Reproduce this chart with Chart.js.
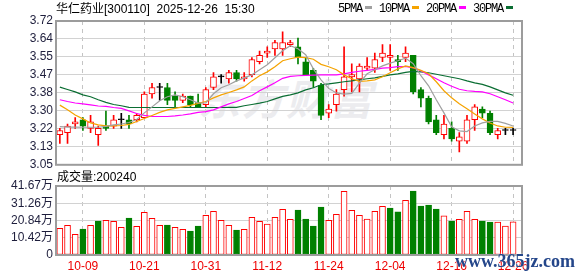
<!DOCTYPE html>
<html>
<head>
<meta charset="utf-8">
<script src="https://cdn.jsdelivr.net/npm/chart.js@4.4.1/dist/chart.umd.min.js"></script>
<style>
  html, body { margin: 0; padding: 0; background: #fff; }
  #wrap { position: relative; width: 578px; height: 276px; overflow: hidden;
          font-family: Arial, "Liberation Sans", "Noto Sans CJK SC", sans-serif; }
  canvas { position: absolute; left: 0; }
  #priceCv { top: 0; }
  #volCv { top: 172px; }
  .txt { position: absolute; white-space: nowrap; font-size: 12px; color: #000; line-height: 14px; }
  #title { left: 56px; top: 2px; }
  #legend { left: 338px; top: 2px; font-family: "Liberation Mono", monospace; letter-spacing: -1.2px; }
  #legend i { display: inline-block; width: 7px; height: 3px; margin: 0 7px 3px 3px; vertical-align: middle; }
  #volLabel { left: 57px; top: 170px; }
  #wm { position: absolute; left: 198px; top: 66px; font-size: 42px; font-weight: bold; color: #ececef;
        font-family: "Noto Sans CJK SC", sans-serif; font-style: italic; letter-spacing: 2px; }
  #site { position: absolute; left: 455px; top: 251px; font-size: 18px; font-weight: bold; color: #24468a;
          font-family: "Liberation Serif", serif; text-shadow: 0 0 2px #fff; }
</style>
</head>
<body>
<div id="wrap">
  <div id="wm">东方财富</div>
  <canvas id="priceCv" width="578" height="175"></canvas>
  <canvas id="volCv" width="578" height="104"></canvas>
  <div id="title" class="txt">华仁药业[300110]&nbsp;&nbsp;2025-12-26&nbsp;&nbsp;15:30</div>
  <div id="legend" class="txt">5PMA<i style="background:#a0a0a0"></i>10PMA<i style="background:#f5a300"></i>20PMA<i style="background:#ff00ff"></i>30PMA<i style="background:#0b6e33"></i></div>
  <div id="volLabel" class="txt">成交量:200240</div>
  <div id="site">www.365jz.com</div>
</div>
<script>
// trading days shown (oldest first)
const dates = ['09-26','09-29','09-30','10-09','10-10','10-13','10-14','10-15','10-16','10-17',
  '10-20','10-21','10-22','10-23','10-24','10-27','10-28','10-29','10-30','10-31',
  '11-03','11-04','11-05','11-06','11-07','11-10','11-11','11-12','11-13','11-14',
  '11-17','11-18','11-19','11-20','11-21','11-24','11-25','11-26','11-27','11-28',
  '12-01','12-02','12-03','12-04','12-05','12-08','12-09','12-10','12-11','12-12',
  '12-15','12-16','12-17','12-18','12-19','12-22','12-23','12-24','12-25','12-26'];
const tickDates = ['10-09','10-21','10-31','11-12','11-24','12-04','12-16','12-26'];

const opens = [3.19,3.20,3.24,3.26,3.22,3.19,3.23,3.23,3.26,3.26,
  3.26,3.27,3.38,3.41,3.41,3.37,3.35,3.37,3.34,3.33,
  3.41,3.46,3.45,3.48,3.45,3.47,3.53,3.57,3.59,3.59,
  3.61,3.60,3.53,3.49,3.42,3.29,3.33,3.40,3.46,3.45,
  3.50,3.50,3.55,3.55,3.54,3.55,3.56,3.40,3.36,3.26,
  3.19,3.22,3.16,3.16,3.26,3.31,3.29,3.19,3.21,3.21];
const highs = [3.22,3.24,3.27,3.27,3.28,3.23,3.30,3.28,3.29,3.28,
  3.29,3.39,3.43,3.43,3.43,3.39,3.38,3.37,3.38,3.41,
  3.48,3.47,3.49,3.49,3.48,3.55,3.58,3.60,3.63,3.67,
  3.63,3.64,3.55,3.50,3.43,3.33,3.40,3.60,3.52,3.52,
  3.55,3.57,3.61,3.61,3.56,3.60,3.56,3.41,3.37,3.28,
  3.28,3.25,3.20,3.28,3.33,3.32,3.30,3.22,3.22,3.22];
const lows = [3.15,3.15,3.22,3.21,3.20,3.14,3.21,3.22,3.22,3.22,
  3.25,3.27,3.36,3.35,3.33,3.32,3.34,3.32,3.32,3.32,
  3.40,3.43,3.43,3.44,3.44,3.46,3.52,3.55,3.56,3.56,
  3.60,3.52,3.47,3.41,3.26,3.27,3.30,3.37,3.39,3.39,
  3.49,3.48,3.53,3.49,3.49,3.53,3.38,3.32,3.24,3.19,
  3.17,3.16,3.11,3.15,3.21,3.27,3.19,3.17,3.19,3.19];
const closes = [3.21,3.23,3.25,3.23,3.25,3.22,3.22,3.26,3.26,3.24,
  3.28,3.38,3.41,3.41,3.35,3.35,3.37,3.33,3.32,3.40,
  3.46,3.46,3.48,3.45,3.46,3.54,3.56,3.58,3.62,3.62,
  3.62,3.55,3.47,3.44,3.28,3.31,3.38,3.46,3.47,3.51,
  3.51,3.54,3.57,3.56,3.53,3.57,3.39,3.36,3.25,3.20,
  3.24,3.17,3.18,3.26,3.32,3.29,3.20,3.21,3.21,3.21];

// moving averages as drawn on the picture
const ma5 = [3.228,3.226,3.226,3.225,3.225,3.225,3.229,3.236,3.240,3.247,
  3.261,3.292,3.320,3.348,3.367,3.376,3.367,3.353,3.338,3.338,
  3.381,3.409,3.423,3.441,3.455,3.469,3.493,3.516,3.549,3.581,
  3.605,3.591,3.563,3.497,3.446,3.406,3.385,3.379,3.383,3.430,
  3.474,3.493,3.511,3.524,3.535,3.547,3.521,3.465,3.418,3.353,
  3.292,3.227,3.208,3.205,3.231,3.245,3.252,3.252,3.243,3.231];
const ma10 = [3.328,3.306,3.282,3.264,3.245,3.236,3.231,3.231,3.233,3.238,
  3.252,3.266,3.280,3.294,3.306,3.313,3.320,3.327,3.336,3.345,
  3.362,3.376,3.387,3.399,3.413,3.441,3.465,3.483,3.507,3.535,
  3.544,3.552,3.549,3.542,3.518,3.507,3.493,3.469,3.451,3.439,
  3.441,3.446,3.460,3.479,3.497,3.511,3.503,3.490,3.474,3.437,
  3.395,3.362,3.334,3.311,3.287,3.264,3.245,3.231,3.225,3.224];
const ma20 = [3.353,3.345,3.338,3.334,3.329,3.324,3.322,3.317,3.313,3.301,
  3.289,3.280,3.275,3.275,3.275,3.278,3.282,3.287,3.294,3.298,
  3.306,3.320,3.334,3.345,3.359,3.373,3.395,3.413,3.432,3.453,
  3.462,3.465,3.467,3.468,3.469,3.469,3.469,3.474,3.481,3.486,
  3.490,3.495,3.500,3.503,3.507,3.508,3.502,3.488,3.469,3.451,
  3.432,3.416,3.402,3.395,3.392,3.390,3.381,3.367,3.353,3.338];
const ma30 = [3.412,3.401,3.390,3.376,3.367,3.353,3.341,3.331,3.325,3.318,
  3.317,3.317,3.317,3.317,3.317,3.317,3.317,3.317,3.317,3.317,
  3.317,3.317,3.318,3.318,3.325,3.331,3.337,3.345,3.357,3.369,
  3.376,3.385,3.399,3.409,3.423,3.427,3.432,3.437,3.441,3.446,
  3.451,3.455,3.462,3.469,3.474,3.481,3.485,3.483,3.479,3.472,
  3.465,3.458,3.451,3.441,3.432,3.425,3.413,3.399,3.385,3.374];

const volumes = [161000,179000,125000,157000,179000,205000,210000,204000,167000,223000,
  173000,258000,222000,179000,181000,167000,155000,145000,175000,240000,
  264000,210000,179000,151000,155000,228000,204000,187000,228000,276000,
  216000,272000,217000,175000,290000,210000,246000,385000,270000,240000,
  217000,264000,294000,284000,260000,330000,386000,296000,302000,278000,
  236000,205000,216000,264000,216000,205000,199000,199000,175000,200240];

const priceTickLabels = ['3.05','3.13','3.22','3.30','3.38','3.47','3.55','3.64','3.72'];
const volTickLabels = ['0','10.42万','20.84万','31.26万','41.67万'];

const RED = '#ff0000', GREEN = '#008000', BLACK = '#000000';
const PRICE_MIN = 3.05, PRICE_MAX = 3.72, VOL_MAX = 416700;
const X_MIN = -0.5, X_MAX = 60.16;

const tickIdx = tickDates.map(d => dates.indexOf(d));
const candleColor = i => closes[i] > opens[i] ? RED : (closes[i] < opens[i] ? GREEN : BLACK);
const volUp = i => i === 0 || closes[i] >= closes[i - 1];

const frame = {
  id: 'frame',
  afterDraw(chart) {
    const { ctx, chartArea: a } = chart;
    ctx.save();
    ctx.strokeStyle = '#9c9c9c';
    ctx.lineWidth = 2;
    ctx.strokeRect(a.left, a.top, a.right - a.left, a.bottom - a.top);
    ctx.restore();
  }
};

function xAxis(showLabels) {
  return {
    type: 'linear', min: X_MIN, max: X_MAX, offset: false,
    afterBuildTicks: s => { s.ticks = tickIdx.map(v => ({ value: v })); },
    afterFit: s => { s.height = showLabels ? 21 : 0; },
    grid: { color: '#c4c4c4', drawTicks: false, offset: false },
    border: { display: false, dash: [4, 4] },
    ticks: {
      display: showLabels, autoSkip: false, maxRotation: 0, padding: 4, color: '#ee0000',
      font: { family: 'Arial, "Liberation Sans"', size: 12 },
      callback: v => dates[v]
    }
  };
}

function yAxis(min, max, labels) {
  const step = (max - min) / (labels.length - 1);
  return {
    min, max,
    afterBuildTicks: s => { s.ticks = labels.map((_, i) => ({ value: min + i * step })); },
    afterFit: s => { s.width = 56; },
    grid: { color: '#d2d2d2', drawTicks: false },
    border: { display: false },
    ticks: {
      autoSkip: false, padding: 3, color: '#1e1e3c',
      font: { family: 'Arial, "Liberation Sans", "Noto Sans CJK SC"', size: 12 },
      callback: (v, i) => labels[i]
    }
  };
}

const pts = arr => arr.map((v, i) => ({ x: i, y: v }));
const maLine = (data, color) => ({
  type: 'line', data: pts(data), borderColor: color, borderWidth: 1.2,
  pointRadius: 0, tension: 0, fill: false
});

new Chart(document.getElementById('priceCv'), {
  type: 'bar',
  data: {
    datasets: [
      maLine(ma5, '#a0a0a0'),
      maLine(ma10, '#f5a300'),
      maLine(ma20, '#ff00ff'),
      maLine(ma30, '#0b6e33'),
      {
        // candle bodies
        data: opens.map((o, i) => ({ x: i, y: [o, closes[i]] })),
        grouped: false, barThickness: 6, minBarLength: 1, borderSkipped: false,
        borderWidth: 1,
        borderColor: opens.map((_, i) => candleColor(i)),
        backgroundColor: opens.map((_, i) => closes[i] > opens[i] ? '#ffffff' : candleColor(i))
      },
      {
        // wicks
        data: lows.map((l, i) => ({ x: i, y: [l, highs[i]] })),
        grouped: false, barThickness: 1, borderWidth: 0,
        backgroundColor: lows.map((_, i) => candleColor(i))
      }
    ]
  },
  options: {
    responsive: false, animation: false,
    layout: { padding: { left: 0, top: 21, right: 56, bottom: 0 } },
    plugins: { legend: { display: false }, tooltip: { enabled: false } },
    scales: { x: xAxis(false), y: yAxis(PRICE_MIN, PRICE_MAX, priceTickLabels) }
  },
  plugins: [frame]
});

new Chart(document.getElementById('volCv'), {
  type: 'bar',
  data: {
    datasets: [{
      data: volumes.map((v, i) => ({ x: i, y: v })),
      barThickness: 6, borderSkipped: false, borderWidth: 1,
      borderColor: volumes.map((_, i) => volUp(i) ? RED : GREEN),
      backgroundColor: volumes.map((_, i) => volUp(i) ? '#ffffff' : GREEN)
    }]
  },
  options: {
    responsive: false, animation: false,
    layout: { padding: { left: 0, top: 14, right: 56, bottom: 0 } },
    plugins: { legend: { display: false }, tooltip: { enabled: false } },
    scales: { x: xAxis(true), y: yAxis(0, VOL_MAX, volTickLabels) }
  },
  plugins: [frame]
});
</script>
</body>
</html>
